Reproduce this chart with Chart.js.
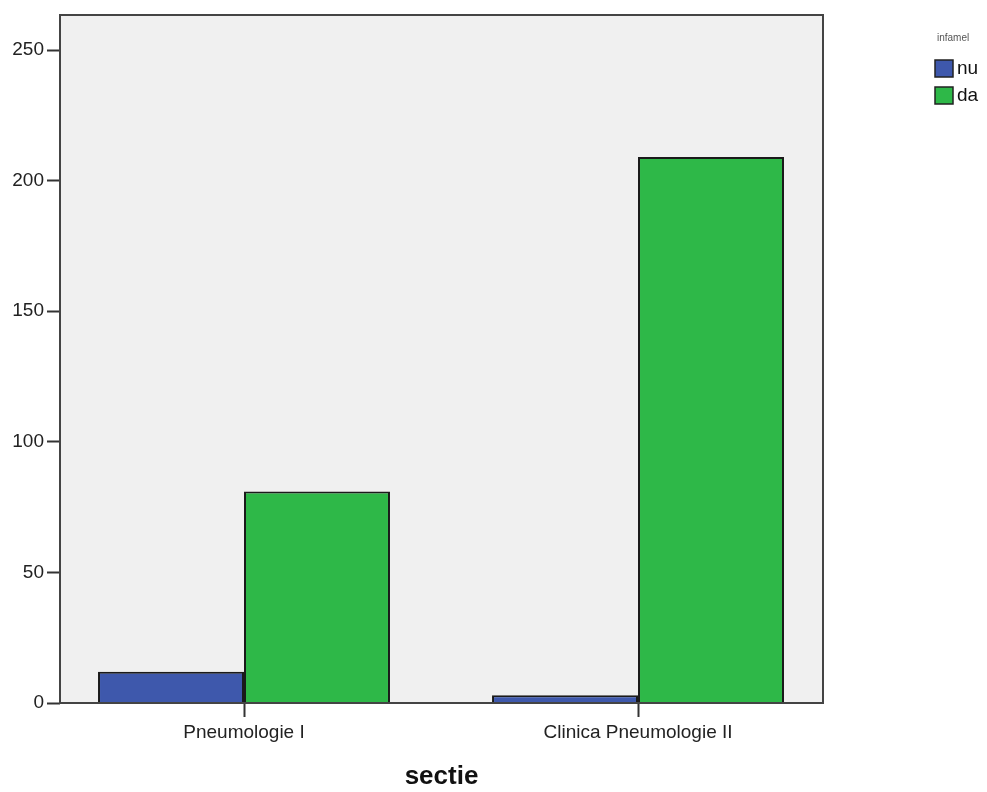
<!DOCTYPE html>
<html>
<head>
<meta charset="utf-8">
<script src="https://cdn.jsdelivr.net/npm/chart.js@4"></script>
<style>
  html, body { margin: 0; padding: 0; background: #fff; }
  #wrap { width: 987px; height: 792px; }
</style>
</head>
<body>
<div id="wrap"><canvas id="c" width="987" height="792"></canvas></div>
<script>
// date
const categories = ["Pneumologie I", "Clinica Pneumologie II"];
const nuValues = [12, 3];
const daValues = [81, 209];
const yTicks = [0, 50, 100, 150, 200, 250];

const FONT = "'Liberation Sans', Arial, sans-serif";

// fundal gri + rama zonei de desen
const frame = {
  id: "frame",
  beforeDraw(chart) {
    const { ctx, chartArea: a } = chart;
    ctx.save();
    ctx.fillStyle = "#fff";
    ctx.fillRect(0, 0, chart.width, chart.height);
    ctx.fillStyle = "#f0f0f0";
    ctx.fillRect(a.left, a.top, a.right - a.left, a.bottom - a.top);
    ctx.restore();
  },
  afterDraw(chart) {
    const { ctx, chartArea: a } = chart;
    ctx.save();
    ctx.strokeStyle = "#444";
    ctx.lineWidth = 2;
    ctx.strokeRect(a.left, a.top, a.right - a.left, a.bottom - a.top);

    // legenda (stil SPSS)
    ctx.fillStyle = "#555";
    ctx.font = "10px " + FONT;
    ctx.textBaseline = "middle";
    ctx.textAlign = "left";
    ctx.fillText("infamel", 937, 38);
    chart.data.datasets.forEach((ds, i) => {
      const y = 60 + i * 27;
      ctx.fillStyle = ds.backgroundColor;
      ctx.fillRect(935, y, 18, 17);
      ctx.strokeStyle = "#222";
      ctx.lineWidth = 1.5;
      ctx.strokeRect(935, y, 18, 17);
      ctx.fillStyle = "#111";
      ctx.font = "19px " + FONT;
      ctx.fillText(ds.label, 957, y + 9);
    });
    ctx.restore();
  }
};

new Chart(document.getElementById("c"), {
  type: "bar",
  data: {
    labels: categories,
    datasets: [
      {
        label: "nu",
        data: nuValues,
        backgroundColor: "#3e58ac",
        borderColor: "#1a1a1a",
        borderWidth: 2,
      },
      {
        label: "da",
        data: daValues,
        backgroundColor: "#2eb848",
        borderColor: "#1a1a1a",
        borderWidth: 2,
      },
    ],
  },
  options: {
    responsive: false,
    animation: false,
    categoryPercentage: 0.741,
    barPercentage: 1,
    layout: { padding: { top: 15, right: 164, left: 0, bottom: 0 } },
    plugins: {
      legend: { display: false },
      tooltip: { enabled: false },
    },
    scales: {
      x: {
        // centrele categoriilor ca in SPSS (nu perfect simetric)
        afterBuildTicks: (s) => {
          s._startValue = -0.467;
          s._valueRange = 1.9365;
        },
        afterFit: (s) => { s.height = 89; },
        border: { display: false },
        grid: {
          offset: false,
          drawOnChartArea: false,
          drawTicks: true,
          tickLength: 14,
          tickColor: "#333",
          tickWidth: 2,
        },
        ticks: {
          color: "#222",
          padding: 4,
          maxRotation: 0,
          font: { family: FONT, size: 19 },
        },
        title: {
          display: true,
          text: "sectie",
          color: "#111",
          padding: { top: 0, bottom: 0 },
          font: { family: FONT, size: 26, weight: "bold" },
        },
      },
      y: {
        min: 0,
        max: 263.4,
        afterFit: (s) => { s.width = 60; },
        afterBuildTicks: (s) => {
          s.ticks = yTicks.map((v) => ({ value: v }));
        },
        border: { display: false },
        grid: {
          drawOnChartArea: false,
          drawTicks: true,
          tickLength: 13,
          tickColor: "#333",
          tickWidth: 2,
        },
        ticks: {
          color: "#222",
          padding: 3,
          font: { family: FONT, size: 19 },
        },
      },
    },
  },
  plugins: [frame],
});
</script>
</body>
</html>
